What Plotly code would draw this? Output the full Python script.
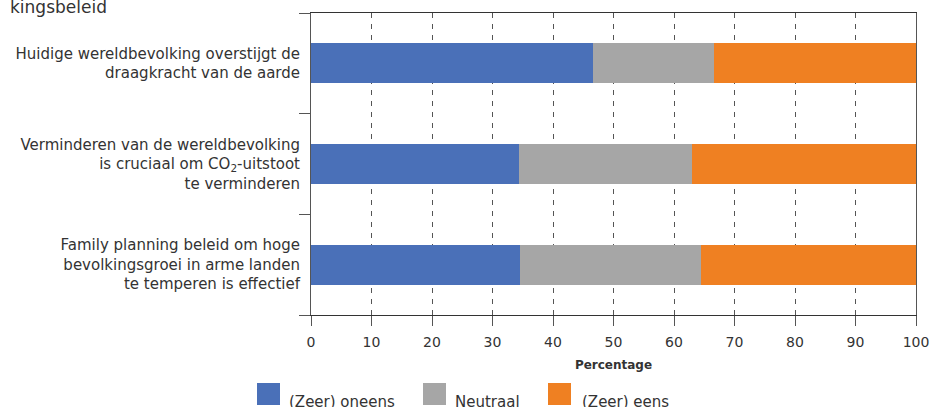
import plotly.graph_objects as go

categories = [
    "Huidige wereldbevolking overstijgt de<br>draagkracht van de aarde",
    "Verminderen van de wereldbevolking<br>is cruciaal om CO<sub>2</sub>-uitstoot<br>te verminderen",
    "Family planning beleid om hoge<br>bevolkingsgroei in arme landen<br>te temperen is effectief",
]
series_names = ["(Zeer) oneens", "Neutraal", "(Zeer) eens"]
oneens = [46.6, 34.4, 34.6]
neutraal = [20.0, 28.6, 29.8]
eens = [33.4, 37.0, 35.6]
colors = ["#4A70B8", "#A6A6A6", "#EF8022"]
x_ticks = [0, 10, 20, 30, 40, 50, 60, 70, 80, 90, 100]
x_title = "Percentage"
title_fragment = "kingsbeleid"

FONT = "DejaVu Sans"
W, H = 931, 407
ML, MR, MT, MB = 311, 15, 13, 92
PW = W - ML - MR
PH = H - MT - MB

fig = go.Figure()
for name, vals, col in zip(series_names, [oneens, neutraal, eens], colors):
    fig.add_trace(go.Bar(
        y=categories, x=vals, name=name, orientation="h",
        marker=dict(color=col, line=dict(width=0)),
        showlegend=False,
    ))

fig.update_layout(
    width=W, height=H,
    margin=dict(l=ML, r=MR, t=MT, b=MB, autoexpand=False),
    barmode="stack", bargap=0.6,
    plot_bgcolor="white", paper_bgcolor="white",
    font=dict(family=FONT, color="#333333", size=14),
)
fig.update_xaxes(
    range=[0, 100], tickvals=x_ticks, ticktext=[str(v) for v in x_ticks],
    automargin=False,
    showgrid=True, gridcolor="#555555", gridwidth=1, griddash="5px,6px",
    showline=True, linecolor="#333333", linewidth=1, mirror=True,
    ticks="outside", ticklen=10, tickcolor="#555555", ticklabelstandoff=4,
    tickfont=dict(size=14, family=FONT, color="#333333"),
    zeroline=False,
    title=dict(text="<b>" + x_title + "</b>", font=dict(size=12, family=FONT, color="#333333"), standoff=11),
)
fig.update_yaxes(
    categoryorder="array", categoryarray=categories[::-1],
    automargin=False,
    tickson="boundaries", ticks="outside", ticklen=11, tickcolor="#555555",
    ticklabelstandoff=7,
    showline=True, linecolor="#555555", linewidth=1, mirror=True,
    showgrid=False, zeroline=False,
    tickfont=dict(size=15, family=FONT, color="#333333"),
)

# title fragment
fig.add_annotation(text=title_fragment, xref="paper", yref="paper",
                   x=(8 - ML) / PW, y=(H - MB - 7) / PH, xanchor="left", yanchor="middle",
                   showarrow=False, font=dict(size=17, family=FONT, color="#333333"))

# custom legend
leg_boxes = [257, 423, 548]
leg_text_x = [287, 453, 580]
for name, col, bx, tx in zip(series_names, colors, leg_boxes, leg_text_x):
    fig.add_shape(type="rect", xref="paper", yref="paper",
                  x0=(bx - ML) / PW, x1=(bx + 23 - ML) / PW,
                  y0=(H - MB - 383) / PH, y1=(H - MB - 405) / PH,
                  fillcolor=col, line=dict(width=0))
    fig.add_annotation(text=name, xref="paper", yref="paper",
                       x=(tx - ML) / PW, y=(H - MB - 402) / PH,
                       xanchor="left", yanchor="middle", showarrow=False,
                       font=dict(size=15, family=FONT, color="#333333"))

fig.write_html("out.html", config={"displayModeBar": False},
               post_script="document.body.style.margin='0';document.body.style.overflow='hidden';")
